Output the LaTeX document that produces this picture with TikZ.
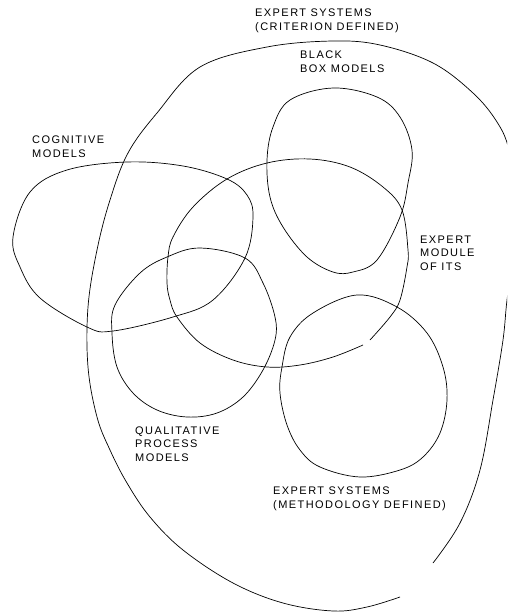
\documentclass[tikz,border=0pt]{standalone}
\usepackage{fontspec}
\newfontfamily\labfont[LetterSpace=13]{Liberation Sans}
\usepackage{tikz}

\tikzset{
  blob/.style={line width=0.7pt},
  lab/.style={anchor=base west,inner sep=0pt,align=left,
    font=\labfont\fontsize{11}{13.5}\selectfont}
}

\begin{document}
\begin{tikzpicture}[x=1pt,y=-1pt]
  \useasboundingbox (0,0) rectangle (507,613);
  \clip (0,0) rectangle (507,613);
  % outer region, open at the lower right
  \draw[blob] plot[smooth,tension=0.6] coordinates {(433,563) (460,523) (480,470) (493,400) (503,340) (507,300)
    (514,250) (516,200) (509,150) (497,122) (473,93) (433,63) (380,45) (333,41) (267,47) (200,67) (157,113)
    (128,153) (110,200) (97,250) (88,307) (88,367) (97,417) (110,450) (127,483) (150,517) (183,550)
    (233,583) (283,603) (333,611) (367,607) (400,597)};
  % cognitive models
  \draw[blob] plot[smooth cycle,tension=0.6] coordinates {(13,237) (20,267) (40,298) (87,327) (113,331)
    (173,317) (213,300) (245,258) (253,217) (247,195) (227,179) (183,166) (127,162) (67,170) (30,192)};
  % black box models
  \draw[blob] plot[smooth cycle,tension=0.6] coordinates {(333,88) (377,97) (400,117) (412,150) (408,183)
    (400,217) (377,260) (353,272) (333,272) (307,257) (283,227) (270,197) (267,160) (273,127) (290,100)};
  % expert module of ITS, small break at the lower right
  \draw[blob] plot[smooth,tension=0.6] coordinates {(370,340) (390,317) (400,300) (407,267) (408,250)
    (402,210) (383,187) (350,167) (310,159) (267,163) (227,179) (193,207) (173,237) (168,257) (167,283)
    (170,300) (177,317) (200,343) (233,360) (267,367) (300,365) (333,357) (363,345)};
  % qualitative process models
  \draw[blob] plot[smooth cycle,tension=0.6] coordinates {(200,248) (245,258) (263,283) (275,317)
    (275,340) (263,370) (243,397) (217,413) (187,417) (157,410) (133,393) (117,367) (112,333) (115,305)
    (140,273) (167,257)};
  % expert systems, methodology defined
  \draw[blob] plot[smooth cycle,tension=0.6] coordinates {(357,295) (397,307) (427,333) (443,367)
    (447,400) (440,433) (423,457) (400,470) (360,477) (320,467) (300,450) (287,425) (280,393) (282,367)
    (290,337) (313,313)};
  % labels (placed at the baseline of their last line)
  \node[lab] (crit) at (255,30) {EXPERT SYSTEMS\\(CRITERION DEFINED)};
  \node[lab] (black) at (300,72) {BLACK\\BOX MODELS};
  \node[lab] (cog) at (32,157) {COGNITIVE\\MODELS};
  \node[lab] (its) at (420,270) {EXPERT\\MODULE\\OF ITS};
  \node[lab] (qpm) at (135,461) {QUALITATIVE\\PROCESS\\MODELS};
  \node[lab] (meth) at (273,508) {EXPERT SYSTEMS\\(METHODOLOGY DEFINED)};
\end{tikzpicture}
\end{document}
